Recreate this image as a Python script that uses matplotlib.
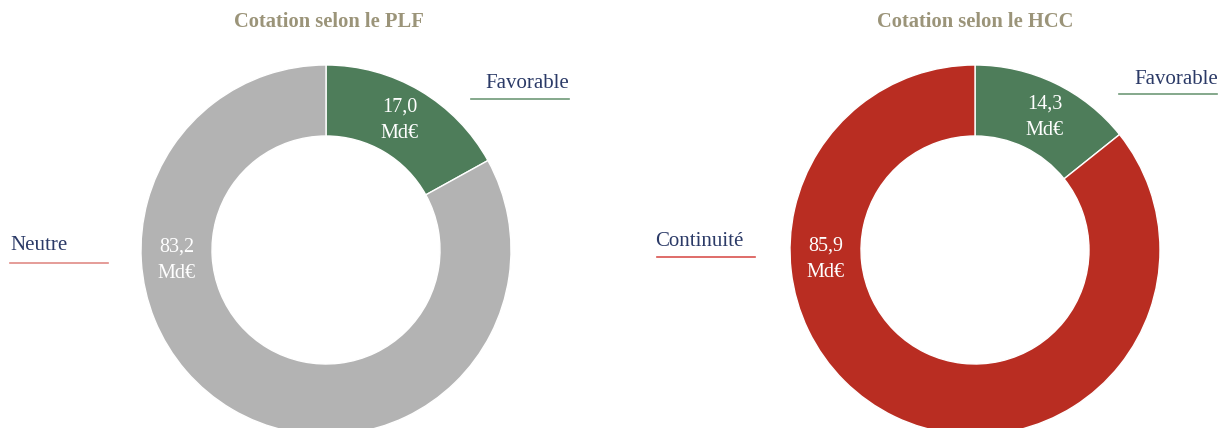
import numpy as np
import matplotlib
matplotlib.use("Agg")
import matplotlib.pyplot as plt
from matplotlib.lines import Line2D

# ---- data ----
titles = ["Cotation selon le PLF", "Cotation selon le HCC"]
categories_plf = ["Favorable", "Neutre"]
values_plf = [17.0, 83.2]
categories_hcc = ["Favorable", "Continuité"]
values_hcc = [14.3, 85.9]

# ---- styles ----
GREEN = "#4e7d5a"
GREY = "#b3b3b3"
RED = "#b92d22"
TITLE_C = "#9b9479"
LABEL_C = "#2b3a67"
FONT = "Liberation Serif"

W, H = 1223, 428
fig = plt.figure(figsize=(W / 100, H / 100), dpi=100)
fig.patch.set_facecolor("white")

R_OUT = 185.0
R_IN = 114.0


def donut(cx, cy, values, colors, label_angles):
    # cx, cy in pixels from top-left
    ax = fig.add_axes([(cx - R_OUT) / W, (H - cy - R_OUT) / H, 2 * R_OUT / W, 2 * R_OUT / H])
    wedges, _ = ax.pie(values, colors=colors, startangle=90, counterclock=False,
                       radius=1.0,
                       wedgeprops=dict(width=1 - R_IN / R_OUT, edgecolor="white", linewidth=1.0))
    ax.set_xlim(-1, 1)
    ax.set_ylim(-1, 1)
    ax.set_aspect("equal")
    ax.axis("off")
    for w in wedges:
        w.set_clip_on(False)
    rmid = (1 + R_IN / R_OUT) / 2
    for v, ang in zip(values, label_angles):
        a = np.deg2rad(ang)
        ax.text(rmid * np.cos(a), rmid * np.sin(a),
                f"{v:.1f}".replace(".", ",") + "\nMd€",
                ha="center", va="center", color="white", fontsize=14.5,
                family=FONT, linespacing=1.55)
    return ax


total_plf = sum(values_plf)
mid_plf = 90 - 360 * values_plf[0] / total_plf / 2
donut(326, 250, values_plf, [GREEN, GREY], [mid_plf + 1, 184])

total_hcc = sum(values_hcc)
mid_hcc = 90 - 360 * values_hcc[0] / total_hcc / 2
donut(975, 250, values_hcc, [GREEN, RED], [mid_hcc - 2, 183.5])

# titles
for t, x in zip(titles, [329, 975]):
    fig.text(x / W, 1 - 22 / H, t, ha="center", va="center", color=TITLE_C,
             fontsize=14.8, fontweight="bold", family=FONT)


def outer_label(text, x_text, y_text, ha, x0, x1, y_line, lc):
    fig.text(x_text / W, 1 - y_text / H, text, ha=ha, va="center",
             color=LABEL_C, fontsize=15, family=FONT)
    fig.add_artist(Line2D([x0 / W, x1 / W], [1 - y_line / H, 1 - y_line / H],
                          color=lc, linewidth=1.2, transform=fig.transFigure))


outer_label(categories_plf[0], 569, 84, "right", 471, 569, 99, "#6f9a78")
outer_label(categories_plf[1], 10, 246, "left", 10, 108, 263, "#e08b86")
outer_label(categories_hcc[0], 1218, 79, "right", 1119, 1217, 94, "#6f9a78")
outer_label(categories_hcc[1], 655, 242, "left", 657, 755, 257, "#d9534f")

fig.savefig("out.png", dpi=100, facecolor="white")
